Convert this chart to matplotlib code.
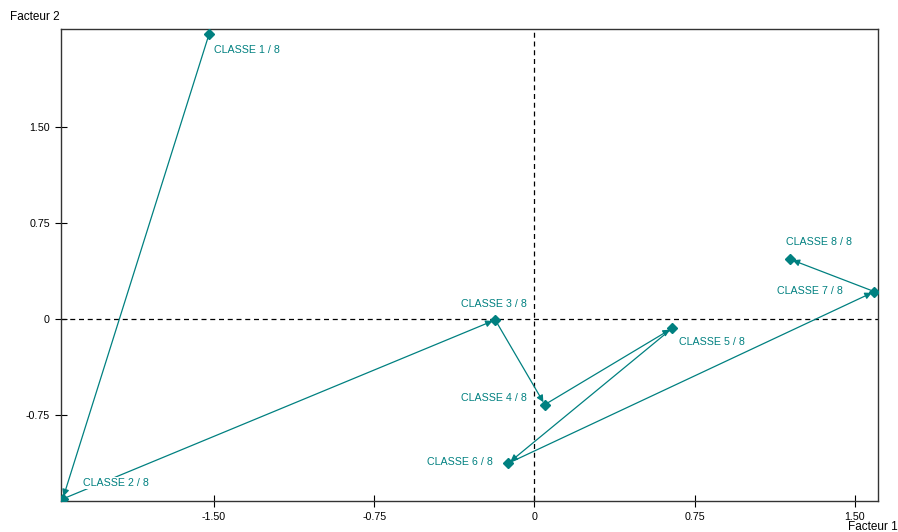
import matplotlib
matplotlib.use('Agg')
from matplotlib import pyplot as plt

# coordonnées des classes sur le plan factoriel
classes = ['CLASSE 1 / 8', 'CLASSE 2 / 8', 'CLASSE 3 / 8', 'CLASSE 4 / 8',
           'CLASSE 5 / 8', 'CLASSE 6 / 8', 'CLASSE 7 / 8', 'CLASSE 8 / 8']
facteur1 = [-1.523, -2.208, -0.183, 0.049, 0.646, -0.122, 1.592, 1.197]
facteur2 = [2.227, -1.404, -0.005, -0.667, -0.070, -1.125, 0.216, 0.469]

ticks = [-1.50, -0.75, 0, 0.75, 1.50]
tick_labels = ['-1.50', '-0.75', '0', '0.75', '1.50']

teal = '#008080'
plt.rcParams['font.family'] = ['Liberation Sans', 'DejaVu Sans']

fig = plt.figure(figsize=(8.98, 5.32), dpi=100)
ax = fig.add_axes([61 / 898, 31 / 532, 817 / 898, 472 / 532])
ax.set_xlim(-2.216, 1.609)
ax.set_ylim(-1.42, 2.268)

# axes en pointillés
ax.axhline(0, color='black', linestyle=(0, (4, 3)), linewidth=0.9, zorder=1)
ax.axvline(0, color='black', linestyle=(0, (4, 3)), linewidth=0.9, zorder=1)

# trajectoire avec flèches
for i in range(1, len(classes)):
    ax.annotate('', xy=(facteur1[i], facteur2[i]),
                xytext=(facteur1[i - 1], facteur2[i - 1]),
                arrowprops=dict(arrowstyle='-|>', color=teal, lw=0.9,
                                mutation_scale=10, shrinkA=0, shrinkB=2),
                zorder=2)

ax.plot(facteur1, facteur2, linestyle='none', marker='D', markersize=5,
        color=teal, zorder=3)

# positions des étiquettes (décalage en pixels, alignement)
offsets = [(5, -16, 'left'), (20, 16, 'left'), (-34, 16, 'left'),
           (-18, 7, 'right'), (7, -14, 'left'), (-15, 1, 'right'),
           (-31, 1, 'right'), (-4, 17, 'left')]
for nom, x, y, (dx, dy, ha) in zip(classes, facteur1, facteur2, offsets):
    ax.annotate(nom, xy=(x, y), xytext=(dx, dy), textcoords='offset pixels',
                ha=ha, va='center', color=teal, fontsize=7.7, zorder=4,
                bbox=dict(boxstyle='square,pad=0.1', fc='white', ec='none'))

ax.set_xticks(ticks)
ax.set_xticklabels(tick_labels)
ax.set_yticks(ticks[1:])
ax.set_yticklabels(tick_labels[1:])
ax.tick_params(direction='inout', length=8, width=0.8, labelsize=7.7,
               pad=4, colors='black')
for s in ax.spines.values():
    s.set_linewidth(1.0)
    s.set_color('#333333')

fig.text(10 / 898, 1 - 17 / 532, 'Facteur 2', fontsize=8.5, va='center', ha='left')
fig.text(848 / 898, 1 - 521 / 532, 'Facteur 1', fontsize=8.5, va='top', ha='left')

fig.savefig('out.png', dpi=100)
